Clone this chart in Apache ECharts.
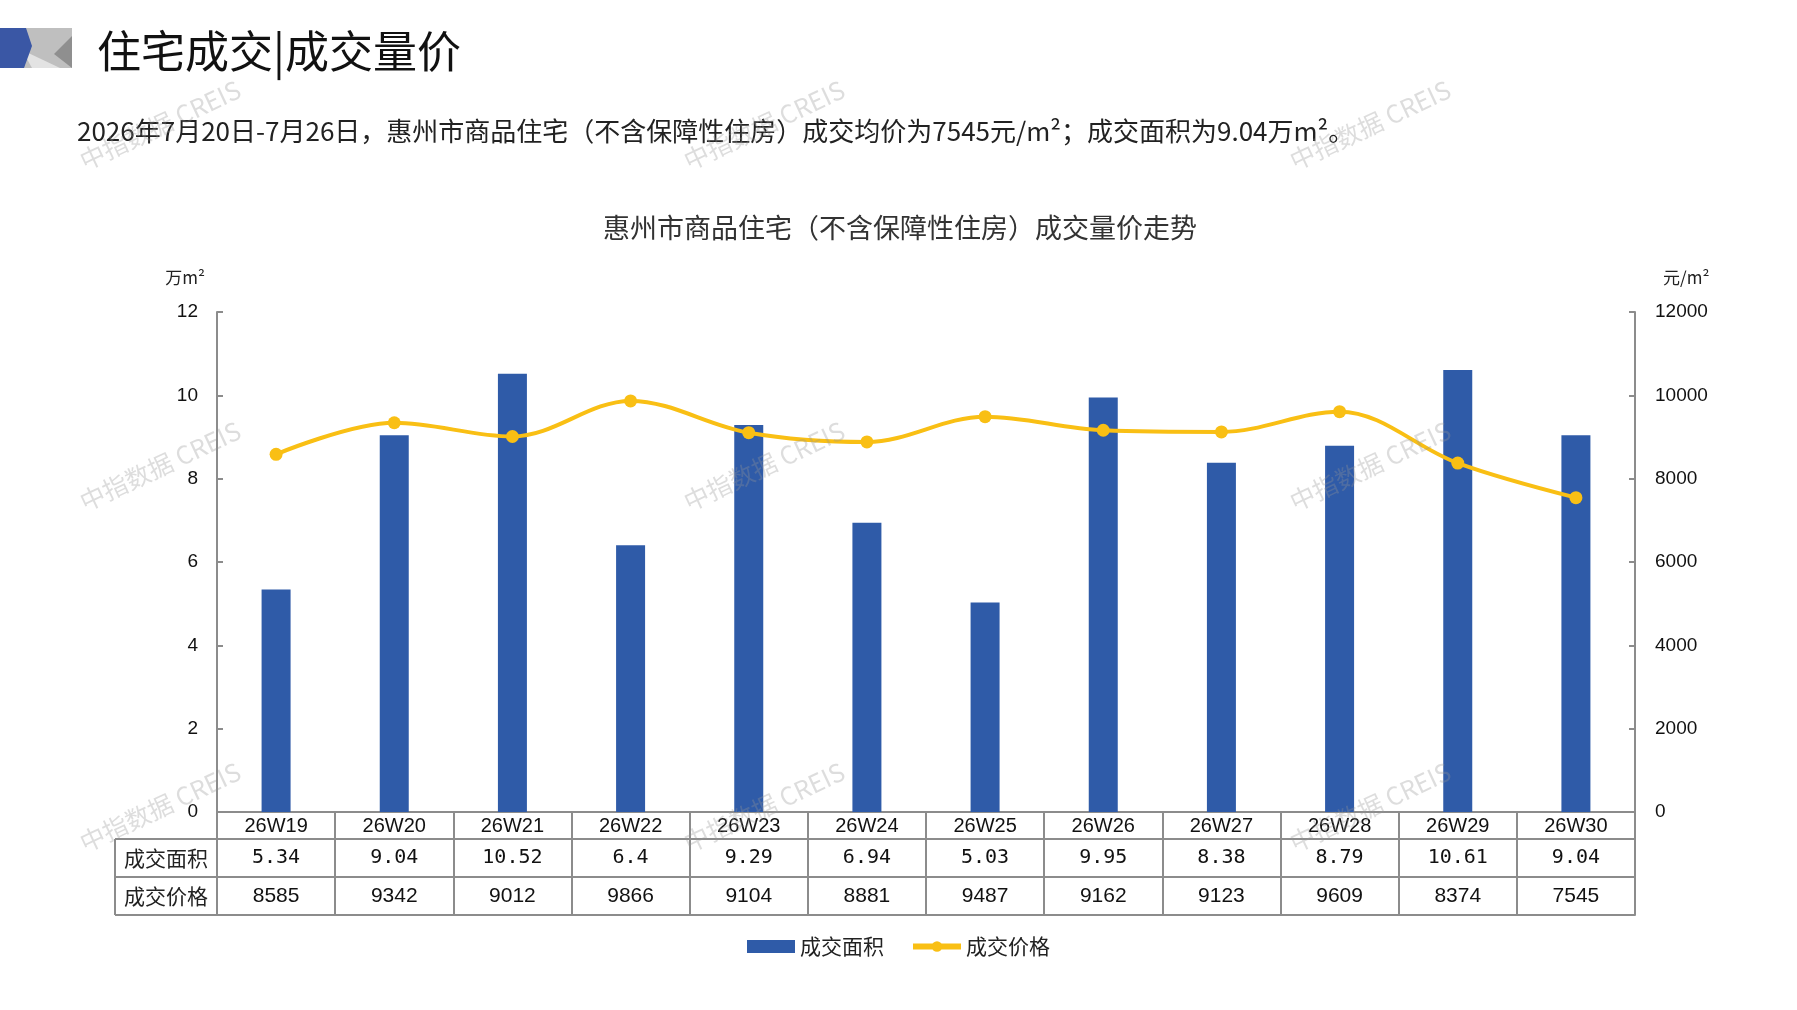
<!DOCTYPE html>
<html>
<head>
<meta charset="utf-8">
<script src="https://cdn.jsdelivr.net/npm/echarts@6/dist/echarts.min.js"></script>
<style>
  html, body { margin: 0; padding: 0; background: #fff; }
  #chart { width: 1797px; height: 1010px; }
</style>
</head>
<body>
<div id="chart"></div>
<script>
// datos de la grafica
const semanas = ['26W19', '26W20', '26W21', '26W22', '26W23', '26W24', '26W25', '26W26', '26W27', '26W28', '26W29', '26W30'];
const areas = [5.34, 9.04, 10.52, 6.4, 9.29, 6.94, 5.03, 9.95, 8.38, 8.79, 10.61, 9.04];
const precios = [8585, 9342, 9012, 9866, 9104, 8881, 9487, 9162, 9123, 9609, 8374, 7545];
const ticksArea = [0, 12, 2];
const ticksPrecio = [0, 12000, 2000];

const CJK = '"Noto Sans CJK SC", sans-serif';
const NARROW = '"Liberation Sans Narrow", "Liberation Sans", sans-serif';
const gris = '#8c8c8c';

// layout (px)
const gLeft = 217, gRight = 1635, gTop = 312, gBottom = 812;
const hHeader = 27, hRow = 38;

let chartDom = document.getElementById('chart');
let myChart = echarts.init(chartDom);

/** watermark */
function marcas() {
    let out = [];
    let xs = [160, 764, 1370];
    let ys = [125, 466, 807];
    for (let y of ys) {
        for (let x of xs) {
            out.push({
                type: 'text', x: x, y: y, rotation: 0.44, z: 100,
                style: {
                    text: '中指数据 CREIS', font: '25px ' + CJK,
                    fill: 'rgba(150,150,150,0.32)', align: 'center', verticalAlign: 'middle'
                }
            });
        }
    }
    return out;
}

/** left column of the table */
function tablaIzquierda() {
    let y1 = gBottom + hHeader, y2 = y1 + hRow, y3 = y2 + hRow;
    let ls = { stroke: gris, lineWidth: 2 };
    return [
        { type: 'line', shape: { x1: 115, y1: y1, x2: gLeft, y2: y1 }, style: ls },
        { type: 'line', shape: { x1: 115, y1: y2, x2: gLeft, y2: y2 }, style: ls },
        { type: 'line', shape: { x1: 115, y1: y3, x2: gLeft, y2: y3 }, style: ls },
        { type: 'line', shape: { x1: 115, y1: y1, x2: 115, y2: y3 }, style: ls },
        { type: 'text', x: (115 + gLeft) / 2, y: (y1 + y2) / 2,
          style: { text: '成交面积', font: '21px ' + CJK, fill: '#222', align: 'center', verticalAlign: 'middle' } },
        { type: 'text', x: (115 + gLeft) / 2, y: (y2 + y3) / 2,
          style: { text: '成交价格', font: '21px ' + CJK, fill: '#222', align: 'center', verticalAlign: 'middle' } }
    ];
}

function logo() {
    return [
        { type: 'rect', shape: { x: 0, y: 28, width: 72, height: 40 }, style: { fill: '#bfbfbf' } },
        { type: 'polygon', shape: { points: [[22, 50], [32, 68], [60, 68]] }, style: { fill: '#e3e3e3' } },
        { type: 'polygon', shape: { points: [[72, 36], [54, 54], [72, 68]] }, style: { fill: '#8f8f8f' } },
        { type: 'polygon', shape: { points: [[0, 28], [26, 28], [32, 46], [24, 68], [0, 68]] }, style: { fill: '#3a57a5' } }
    ];
}

let option = {
    animation: false,
    backgroundColor: '#fff',
    title: [
        {
            text: '住宅成交|成交量价', left: 92, top: 24,
            textStyle: { fontFamily: CJK, fontSize: 44, fontWeight: 'normal', color: '#111' }
        },
        {
            text: '2026年7月20日-7月26日，惠州市商品住宅（不含保障性住房）成交均价为7545元/m²；成交面积为9.04万m²。',
            left: 72, top: 113,
            textStyle: { fontFamily: CJK, fontSize: 26, fontWeight: 'normal', color: '#222' }
        },
        {
            text: '惠州市商品住宅（不含保障性住房）成交量价走势', left: 895, top: 209, textAlign: 'center',
            textStyle: { fontFamily: CJK, fontSize: 27, fontWeight: 'normal', color: '#333' }
        }
    ],
    legend: {
        left: 'center', top: 931, itemWidth: 48, itemHeight: 13, itemGap: 26,
        textStyle: { fontFamily: CJK, fontSize: 21, color: '#222' },
        data: [
            { name: '成交面积', icon: 'rect' },
            { name: '成交价格', lineStyle: { width: 6 } }
        ]
    },
    grid: { left: gLeft, right: 1797 - gRight, top: gTop, bottom: 1010 - gBottom },
    xAxis: [
        {
            type: 'category', data: semanas, position: 'bottom',
            axisLine: { onZero: false, lineStyle: { color: gris, width: 2 } },
            axisTick: { show: true, interval: 0, length: hHeader + 2 * hRow, alignWithLabel: false, lineStyle: { color: gris, width: 2 } },
            axisLabel: { interval: 0, margin: 4, fontFamily: NARROW, fontSize: 20, color: '#111' }
        },
        {
            type: 'category', data: areas.map(v => String(v)), position: 'bottom', offset: hHeader,
            axisLine: { onZero: false, lineStyle: { color: gris, width: 2 } },
            axisTick: { show: false },
            axisLabel: { interval: 0, margin: 9, fontFamily: '"DejaVu Sans Mono", monospace', fontSize: 20, color: '#111' }
        },
        {
            type: 'category', data: precios.map(v => String(v)), position: 'bottom', offset: hHeader + hRow,
            axisLine: { onZero: false, lineStyle: { color: gris, width: 2 } },
            axisTick: { show: false },
            axisLabel: { interval: 0, margin: 9, fontFamily: NARROW, fontSize: 21, color: '#111' }
        },
        {
            type: 'category', data: semanas, position: 'bottom', offset: hHeader + 2 * hRow,
            axisLine: { onZero: false, lineStyle: { color: gris, width: 2 } },
            axisTick: { show: false },
            axisLabel: { show: false }
        }
    ],
    yAxis: [
        {
            type: 'value', min: ticksArea[0], max: ticksArea[1], interval: ticksArea[2],
            name: '万m²', nameGap: 26,
            nameTextStyle: { fontFamily: CJK, fontSize: 17, color: '#222', align: 'right', padding: [0, 12, 0, 0] },
            axisLine: { show: true, lineStyle: { color: gris, width: 2 } },
            axisTick: { show: true, inside: true, length: 6, lineStyle: { color: gris, width: 2 } },
            axisLabel: { margin: 19, fontFamily: '"Liberation Sans", sans-serif', fontSize: 19, color: '#111' },
            splitLine: { show: false }
        },
        {
            type: 'value', min: ticksPrecio[0], max: ticksPrecio[1], interval: ticksPrecio[2],
            name: '元/m²', nameGap: 26,
            nameTextStyle: { fontFamily: CJK, fontSize: 17, color: '#222', align: 'left', padding: [0, 0, 0, 28] },
            axisLine: { show: true, lineStyle: { color: gris, width: 2 } },
            axisTick: { show: true, inside: true, length: 6, lineStyle: { color: gris, width: 2 } },
            axisLabel: { margin: 20, formatter: v => String(v), fontFamily: '"Liberation Sans", sans-serif', fontSize: 19, color: '#111' },
            splitLine: { show: false }
        }
    ],
    series: [
        {
            name: '成交面积', type: 'bar', xAxisIndex: 0, yAxisIndex: 0,
            barWidth: 29, itemStyle: { color: '#2f5ba8' },
            data: areas
        },
        {
            name: '成交价格', type: 'line', xAxisIndex: 0, yAxisIndex: 1,
            smooth: 0.35, symbol: 'circle', symbolSize: 13,
            lineStyle: { color: '#f9bf14', width: 4 },
            itemStyle: { color: '#f9bf14' },
            data: precios
        }
    ],
    graphic: logo().concat(tablaIzquierda(), marcas())
};

option && myChart.setOption(option);
</script>
</body>
</html>
